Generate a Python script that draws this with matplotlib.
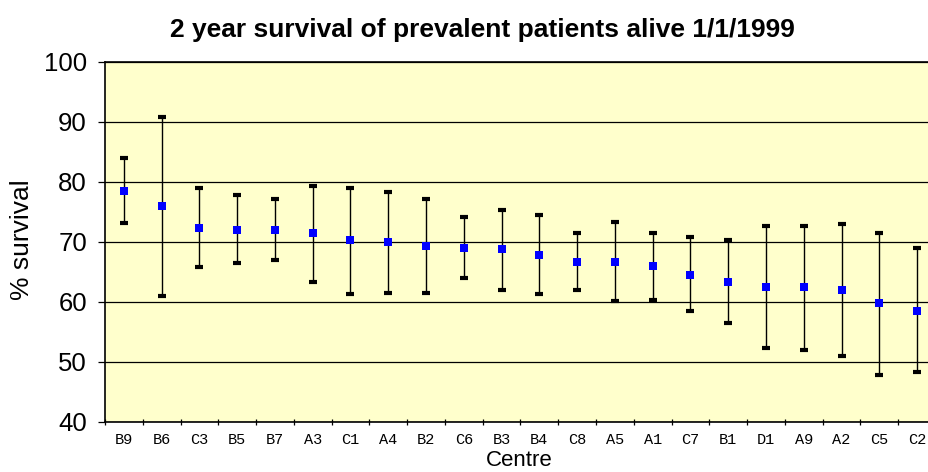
import matplotlib
matplotlib.use("Agg")
import matplotlib.pyplot as plt
import numpy as np

centres = ["B9", "B6", "C3", "B5", "B7", "A3", "C1", "A4", "B2", "C6", "B3",
           "B4", "C8", "A5", "A1", "C7", "B1", "D1", "A9", "A2", "C5", "C2"]
survival = [78.5, 75.9, 72.3, 72.0, 72.0, 71.4, 70.2, 69.9, 69.3, 69.0, 68.7,
            67.8, 66.6, 66.6, 66.0, 64.5, 63.3, 62.4, 62.4, 61.9, 59.7, 58.5]
upper = [83.9, 90.8, 78.9, 77.7, 77.1, 79.2, 78.9, 78.3, 77.1, 74.1, 75.3,
         74.4, 71.4, 73.2, 71.4, 70.8, 70.2, 72.6, 72.6, 72.9, 71.4, 69.0]
lower = [73.1, 61.0, 65.8, 66.4, 66.9, 63.3, 61.2, 61.5, 61.5, 63.9, 61.9,
         61.2, 61.9, 60.1, 60.3, 58.5, 56.4, 52.2, 51.9, 51.0, 47.7, 48.3]

plt.rcParams['font.family'] = ['Liberation Sans', 'DejaVu Sans']

fig = plt.figure(figsize=(9.29, 4.72), dpi=100)
ax = fig.add_axes([0.113, 0.1066, 0.8945, 0.763])
ax.set_facecolor('#FFFFCC')

x = np.arange(len(centres))
s = np.array(survival)
yerr = [s - np.array(lower), np.array(upper) - s]
ax.errorbar(x, s, yerr=yerr, fmt='none', ecolor='black', elinewidth=1.0,
            capsize=3.1, capthick=3.0, zorder=3)
ax.plot(x, s, linestyle='none', marker='s', color='#0000FF', markersize=5.3,
        markeredgewidth=0, zorder=4)

ax.set_xlim(-0.5, len(centres) - 0.5)
ax.set_ylim(40, 100)
ax.set_yticks(range(40, 101, 10))
ax.yaxis.grid(True, color='black', linewidth=0.9, zorder=1)
ax.set_axisbelow(True)

ax.set_xticks(x)
ax.set_xticklabels(centres, family=['Liberation Mono'], fontsize=11)
ax.set_xticks(np.arange(-0.5, len(centres), 1.0), minor=True)
ax.tick_params(axis='x', which='major', length=0, pad=8)
ax.tick_params(axis='x', which='minor', direction='inout', length=5, width=0.9)
ax.tick_params(axis='y', direction='out', length=5, width=0.9, labelsize=18.5, pad=8)

for side in ['left', 'bottom', 'top']:
    ax.spines[side].set_linewidth(1.2)
    ax.spines[side].set_color('black')
ax.spines['right'].set_visible(False)

fig.text(482 / 929, 1 - 30 / 472, "2 year survival of prevalent patients alive 1/1/1999",
         ha='center', va='center', fontsize=19, fontweight='bold')
fig.text(519 / 929, 1 - 461 / 472, "Centre", ha='center', va='center', fontsize=16)
fig.text(22.5 / 929, 1 - 240 / 472, "% survival", ha='center', va='center',
         rotation=90, fontsize=19)

fig.savefig("out.png", dpi=100)
